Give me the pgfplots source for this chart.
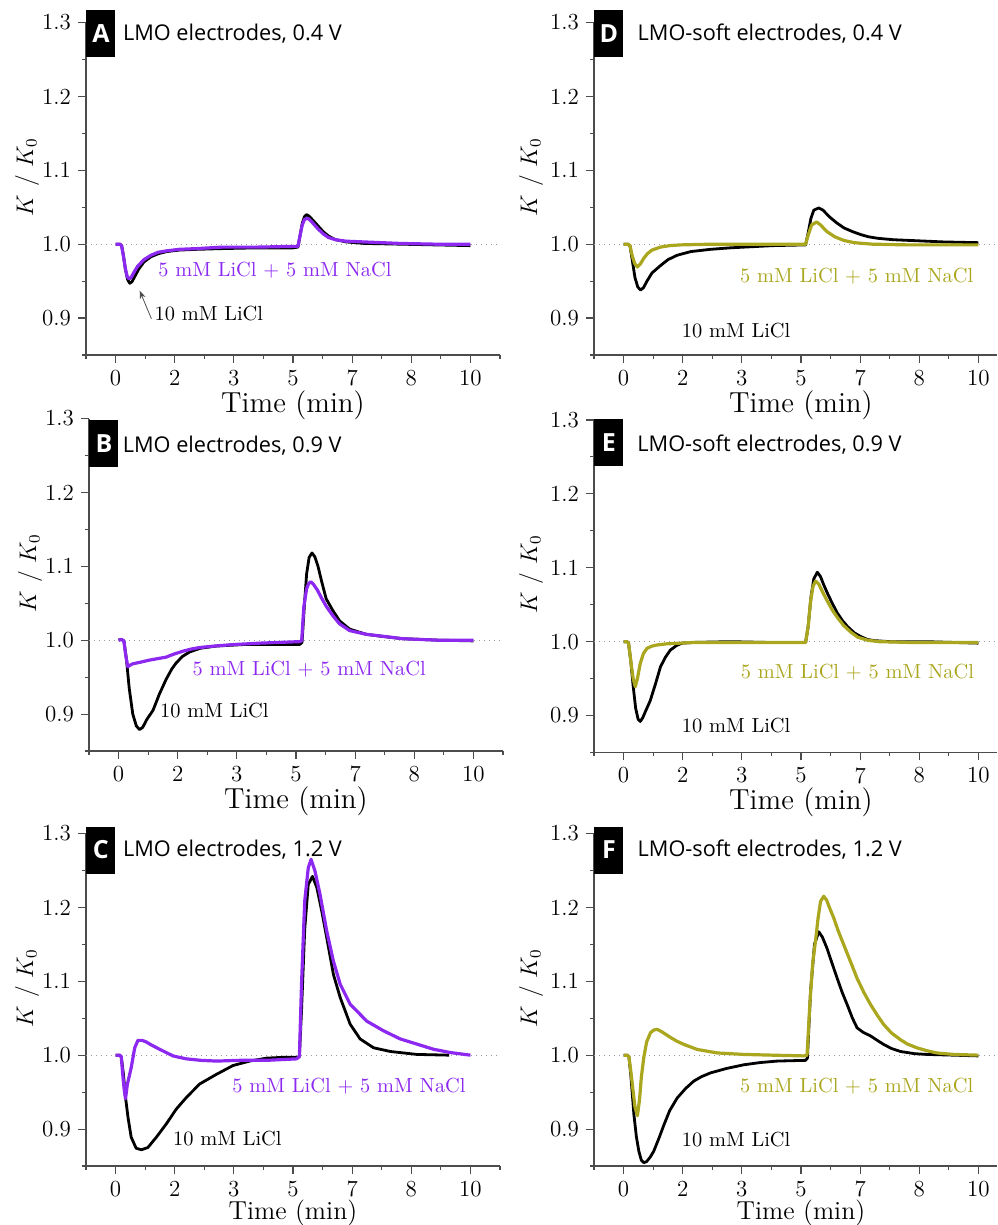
\documentclass[border=0pt]{standalone}
\usepackage{pgfplots}
\pgfplotsset{compat=1.18}
\usepackage{fontspec}
\newfontfamily\titlefont{Open Sans}
\usetikzlibrary{arrows.meta}
\definecolor{lmopurple}{RGB}{140,40,240}
\definecolor{softolive}{RGB}{170,166,30}
\pgfplotsset{
 panel/.style={
  scale only axis, height=166.25pt, clip=false,
  ymin=0.85, ymax=1.3, xmin=-0.8333,
  axis x line*=bottom, axis y line*=left,
  axis line style={black!70, line width=0.7pt},
  tick style={black!70, line width=0.55pt},
  tick align=outside, major tick length=4pt, minor tick length=2pt,
  xtick={0,1.6667,3.3333,5,6.6667,8.3333,10},
  xticklabels={0,2,3,5,7,8,10},
  minor xtick={-0.8333,0.8333,2.5,4.1667,5.8333,7.5,9.1667,10.8333},
  ytick={0.9,1.0,1.1,1.2,1.3}, yticklabels={0.9,1.0,1.1,1.2,1.3},
  minor ytick={0.85,0.95,1.05,1.15,1.25},
  ticklabel style={font=\fontsize{11.5}{13}\selectfont},
  xlabel={Time (min)}, ylabel={$K$ / $K_0$},
  xlabel style={font=\fontsize{14.5}{16}\selectfont, anchor=center},
  ylabel style={font=\fontsize{12}{14}\selectfont, anchor=center},
 },
 leftpanel/.style={panel, width=207pt, xmax=10.8333,
  xlabel style={at={(axis description cs:0.5,-0.15)}},
  ylabel style={at={(axis description cs:-0.1425,0.535)}}},
 rightpanel/.style={panel, width=201.5pt, xmax=10.5234,
  xlabel style={at={(axis description cs:0.5136,-0.15)}},
  ylabel style={at={(axis description cs:-0.156,0.535)}}},
 bottomrow/.style={xlabel style={at={(axis description cs:#1,-0.14)}, font=\fontsize{13}{14}\selectfont}},
 kline/.style={black, line width=1.4pt, line join=round},
 pline/.style={lmopurple, line width=1.6pt, line join=round},
 oline/.style={softolive, line width=1.6pt, line join=round},
 refline/.style={black!40, dotted, line width=0.5pt},
}
\newcommand{\panellabel}[2]{\node[fill=black, text=white, font=\titlefont\bfseries\fontsize{12.5}{14}\selectfont, minimum width=14.5pt, minimum height=23.5pt, inner sep=0pt, anchor=north west] at (axis cs:-0.8333,#2) {#1};}
\newcommand{\paneltitle}[3]{\node[anchor=base west, font=\titlefont\fontsize{10.85}{12}\selectfont, inner sep=0pt] at (axis cs:#1,#2) {#3};}
\newcommand{\annot}[4]{\node[text=#1, font=\fontsize{10.2}{12}\selectfont, inner sep=0pt] at (axis cs:#2,#3) {#4};}
\begin{document}
\begin{tikzpicture}
\useasboundingbox (0,0) rectangle (498.5pt,612.5pt);
% ---------------- A ----------------
\begin{axis}[leftpanel, at={(43pt,435pt)}, anchor=south west]
\addplot[refline] coordinates {(-0.8333,1) (10.8333,1)};
\addplot[kline] coordinates {(0,1.000)(0.12,1.000)(0.17,0.998)(0.22,0.985)(0.28,0.965)(0.34,0.952)(0.40,0.947)(0.46,0.949)(0.55,0.957)(0.65,0.966)(0.8,0.976)(1.0,0.983)(1.2,0.987)(1.45,0.990)(1.8,0.992)(2.3,0.993)(3.0,0.994)(4.0,0.995)(5.0,0.995)(5.14,0.996)(5.2,1.012)(5.26,1.028)(5.32,1.037)(5.38,1.040)(5.45,1.038)(5.55,1.033)(5.7,1.025)(5.85,1.017)(6.0,1.011)(6.2,1.006)(6.5,1.003)(7.0,1.001)(8.0,1.000)(9.0,0.999)(10.0,0.998)};
\addplot[pline] coordinates {(0,1.000)(0.12,1.000)(0.17,0.998)(0.22,0.984)(0.28,0.966)(0.33,0.956)(0.38,0.953)(0.44,0.955)(0.52,0.962)(0.62,0.970)(0.8,0.979)(1.0,0.985)(1.2,0.989)(1.45,0.991)(1.8,0.993)(2.3,0.994)(3.0,0.996)(4.0,0.996)(5.0,0.997)(5.14,0.997)(5.2,1.012)(5.26,1.026)(5.32,1.033)(5.38,1.035)(5.45,1.034)(5.55,1.029)(5.7,1.021)(5.85,1.014)(6.0,1.009)(6.2,1.006)(6.5,1.004)(7.0,1.003)(8.0,1.001)(9.0,1.000)(10.0,1.000)};
\annot{lmopurple}{4.49}{0.9646}{5 mM LiCl + 5 mM NaCl}
\annot{black}{2.63}{0.906}{10 mM LiCl}
\draw[-{Stealth[length=4pt,width=3pt]}, black!70, line width=0.4pt] (axis cs:1.01,0.899) -- (axis cs:0.68,0.937);
\panellabel{A}{1.317}
\paneltitle{0.2}{1.275}{LMO electrodes, 0.4 V}
\end{axis}
% ---------------- B ----------------
\begin{axis}[leftpanel, at={(44.5pt,237pt)}, anchor=south west]
\addplot[refline] coordinates {(-0.8333,1) (10.8333,1)};
\addplot[kline] coordinates {(0,1.000)(0.08,1.001)(0.15,0.999)(0.22,0.975)(0.3,0.935)(0.4,0.900)(0.5,0.884)(0.59,0.879)(0.68,0.882)(0.8,0.893)(0.97,0.905)(1.15,0.927)(1.34,0.947)(1.5,0.961)(1.62,0.969)(1.8,0.978)(2.0,0.984)(2.3,0.989)(2.75,0.992)(3.5,0.994)(4.16,0.994)(5.1,0.994)(5.17,0.997)(5.24,1.05)(5.3,1.09)(5.37,1.112)(5.45,1.118)(5.53,1.113)(5.62,1.100)(5.72,1.080)(5.85,1.056)(6.04,1.040)(6.23,1.026)(6.51,1.015)(6.97,1.008)(7.44,1.005)(8.0,1.002)(9.0,1.000)(10.0,0.999)};
\addplot[pline] coordinates {(0,1.000)(0.08,1.001)(0.15,0.999)(0.2,0.980)(0.26,0.964)(0.32,0.966)(0.4,0.968)(0.6,0.970)(0.87,0.973)(1.1,0.975)(1.34,0.977)(1.55,0.981)(1.81,0.985)(2.05,0.988)(2.28,0.990)(2.7,0.992)(3.22,0.994)(4.0,0.996)(5.1,0.998)(5.16,0.999)(5.22,1.045)(5.3,1.070)(5.36,1.077)(5.42,1.079)(5.5,1.075)(5.6,1.068)(5.72,1.057)(5.85,1.046)(6.04,1.033)(6.23,1.022)(6.51,1.013)(6.97,1.008)(7.5,1.005)(8.0,1.002)(9.0,1.000)(10.0,1.000)};
\annot{lmopurple}{5.37}{0.961}{5 mM LiCl + 5 mM NaCl}
\annot{black}{2.70}{0.905}{10 mM LiCl}
\panellabel{B}{1.299}
\paneltitle{0.11}{1.254}{LMO electrodes, 0.9 V}
\end{axis}
% ---------------- C ----------------
\begin{axis}[leftpanel, bottomrow=0.5, at={(43pt,29.5pt)}, anchor=south west]
\addplot[refline] coordinates {(-0.8333,1) (10.8333,1)};
\addplot[kline] coordinates {(0,1.000)(0.1,1.000)(0.16,0.998)(0.22,0.975)(0.28,0.943)(0.35,0.916)(0.44,0.889)(0.58,0.874)(0.73,0.872)(0.91,0.875)(1.15,0.889)(1.43,0.907)(1.71,0.927)(2.0,0.943)(2.37,0.961)(2.84,0.974)(3.31,0.986)(3.78,0.992)(4.26,0.996)(4.7,0.997)(5.1,0.997)(5.18,0.998)(5.24,1.06)(5.33,1.17)(5.43,1.231)(5.55,1.242)(5.67,1.227)(5.81,1.195)(5.95,1.159)(6.14,1.109)(6.33,1.078)(6.61,1.042)(6.89,1.022)(7.27,1.010)(7.74,1.005)(8.49,1.001)(9.4,1.000)};
\addplot[pline] coordinates {(0,1.000)(0.12,1.000)(0.16,0.998)(0.2,0.975)(0.24,0.955)(0.28,0.941)(0.33,0.960)(0.44,0.983)(0.54,1.010)(0.63,1.020)(0.75,1.020)(0.86,1.018)(1.0,1.014)(1.24,1.008)(1.45,1.003)(1.62,0.999)(1.8,0.997)(2.0,0.995)(2.4,0.993)(2.84,0.992)(3.5,0.993)(4.26,0.993)(5.1,0.995)(5.18,0.998)(5.24,1.096)(5.33,1.2085)(5.43,1.2535)(5.51,1.265)(5.62,1.249)(5.76,1.218)(5.95,1.168)(6.14,1.127)(6.33,1.096)(6.61,1.069)(7.08,1.046)(7.55,1.033)(8.02,1.022)(8.49,1.015)(8.96,1.008)(9.44,1.0035)(10.0,1.000)};
\annot{lmopurple}{6.58}{0.9585}{5 mM LiCl + 5 mM NaCl}
\annot{black}{3.15}{0.8865}{10 mM LiCl}
\panellabel{C}{1.31}
\paneltitle{0.2}{1.269}{LMO electrodes, 1.2 V}
\end{axis}
% ---------------- D ----------------
\begin{axis}[rightpanel, at={(297pt,435pt)}, anchor=south west]
\addplot[refline] coordinates {(-0.8333,1) (10.5234,1)};
\addplot[kline] coordinates {(0,1.000)(0.12,1.000)(0.18,0.998)(0.24,0.980)(0.32,0.955)(0.40,0.942)(0.48,0.938)(0.56,0.941)(0.66,0.950)(0.8,0.961)(1.04,0.971)(1.25,0.979)(1.51,0.985)(1.9,0.990)(2.45,0.993)(3.0,0.995)(3.4,0.996)(4.2,0.998)(5.13,0.999)(5.2,1.015)(5.28,1.035)(5.36,1.046)(5.5,1.049)(5.62,1.046)(5.8,1.037)(6.0,1.029)(6.21,1.022)(6.45,1.017)(6.68,1.013)(6.9,1.010)(7.15,1.008)(7.6,1.006)(8.08,1.005)(9.02,1.003)(10.0,1.002)};
\addplot[oline] coordinates {(0,1.000)(0.12,1.000)(0.18,0.998)(0.24,0.985)(0.31,0.974)(0.39,0.969)(0.47,0.973)(0.57,0.981)(0.67,0.987)(0.8,0.992)(1.04,0.996)(1.3,0.998)(1.6,0.999)(2.5,1.000)(4.0,1.000)(5.13,1.000)(5.2,1.012)(5.3,1.026)(5.44,1.030)(5.55,1.026)(5.73,1.017)(5.95,1.010)(6.21,1.005)(6.5,1.002)(7.0,1.000)(8.0,0.999)(10.0,0.999)};
\annot{softolive}{6.57}{0.957}{5 mM LiCl + 5 mM NaCl}
\annot{black}{3.17}{0.883}{10 mM LiCl}
\panellabel{D}{1.317}
\paneltitle{0.386}{1.275}{LMO-soft electrodes, 0.4 V}
\end{axis}
% ---------------- E ----------------
\begin{axis}[rightpanel, at={(297pt,236.25pt)}, anchor=south west]
\addplot[refline] coordinates {(-0.8333,1) (10.5234,1)};
\addplot[kline] coordinates {(0,1.0)(0.1,1.0)(0.14,0.998)(0.2,0.975)(0.27,0.94)(0.34,0.91)(0.41,0.895)(0.47,0.892)(0.54,0.897)(0.62,0.906)(0.75,0.920)(0.9,0.943)(1.04,0.966)(1.18,0.979)(1.32,0.9887)(1.5,0.995)(1.65,0.998)(2.0,0.999)(3.0,1.0)(4.0,0.999)(5.13,0.999)(5.2,1.02)(5.28,1.06)(5.36,1.085)(5.46,1.094)(5.55,1.088)(5.64,1.077)(5.74,1.066)(5.88,1.052)(6.02,1.039)(6.16,1.029)(6.31,1.0205)(6.5,1.012)(6.68,1.007)(6.87,1.003)(7.06,1.0014)(7.5,1.0)(8.5,1.0)(10,0.998)};
\addplot[oline] coordinates {(0,1.0)(0.1,1.0)(0.14,0.998)(0.2,0.975)(0.27,0.95)(0.33,0.939)(0.39,0.950)(0.47,0.9705)(0.56,0.984)(0.66,0.991)(0.8,0.994)(0.94,0.9955)(1.2,0.997)(1.6,0.998)(2.0,0.999)(3.0,0.999)(4.0,0.999)(5.13,0.999)(5.2,1.02)(5.27,1.055)(5.34,1.075)(5.41,1.082)(5.5,1.078)(5.6,1.068)(5.74,1.055)(5.88,1.043)(6.02,1.033)(6.2,1.022)(6.4,1.013)(6.6,1.006)(6.87,1.002)(7.2,1.0)(8,0.999)(10,0.999)};
\annot{softolive}{6.59}{0.959}{5 mM LiCl + 5 mM NaCl}
\annot{black}{3.17}{0.886}{10 mM LiCl}
\panellabel{E}{1.302}
\paneltitle{0.38}{1.257}{LMO-soft electrodes, 0.9 V}
\end{axis}
% ---------------- F ----------------
\begin{axis}[rightpanel, bottomrow=0.5136, at={(297pt,29.5pt)}, anchor=south west]
\addplot[refline] coordinates {(-0.8333,1) (10.5234,1)};
\addplot[kline] coordinates {(0,1.0)(0.1,1.0)(0.15,0.998)(0.2,0.975)(0.25,0.945)(0.29,0.920)(0.36,0.89)(0.43,0.870)(0.5,0.858)(0.57,0.8545)(0.65,0.856)(0.75,0.862)(0.85,0.870)(1.0,0.888)(1.14,0.906)(1.3,0.925)(1.51,0.942)(1.75,0.955)(1.98,0.965)(2.2,0.971)(2.45,0.976)(2.9,0.982)(3.39,0.987)(3.85,0.990)(4.33,0.992)(5.13,0.993)(5.18,0.996)(5.27,1.087)(5.38,1.150)(5.5,1.167)(5.6,1.160)(5.73,1.145)(5.87,1.125)(6.02,1.104)(6.16,1.085)(6.3,1.0685)(6.45,1.050)(6.58,1.037)(6.75,1.031)(6.96,1.026)(7.15,1.020)(7.33,1.0145)(7.55,1.009)(7.8,1.005)(8.2,1.002)(8.55,1.001)(9.3,1.000)(10,0.999)};
\addplot[oline] coordinates {(0,1.0)(0.1,1.0)(0.15,0.998)(0.2,0.98)(0.26,0.955)(0.32,0.93)(0.39,0.918)(0.45,0.94)(0.5,0.97)(0.57,0.997)(0.65,1.018)(0.76,1.0305)(0.85,1.034)(0.95,1.035)(1.1,1.031)(1.32,1.024)(1.5,1.019)(1.7,1.0145)(2.08,1.0077)(2.64,1.003)(3.39,1.001)(4.2,1.000)(5.08,0.999)(5.17,1.0)(5.25,1.07)(5.33,1.125)(5.41,1.155)(5.48,1.185)(5.55,1.208)(5.64,1.215)(5.72,1.210)(5.8,1.200)(5.92,1.186)(6.05,1.168)(6.2,1.150)(6.4,1.126)(6.58,1.104)(6.77,1.085)(6.96,1.0685)(7.15,1.054)(7.33,1.0415)(7.55,1.030)(7.8,1.021)(8.0,1.015)(8.27,1.0099)(8.55,1.006)(8.83,1.003)(9.3,1.001)(10,1.0)};
\annot{softolive}{6.57}{0.9585}{5 mM LiCl + 5 mM NaCl}
\annot{black}{3.17}{0.886}{10 mM LiCl}
\panellabel{F}{1.31}
\paneltitle{0.386}{1.269}{LMO-soft electrodes, 1.2 V}
\end{axis}
\end{tikzpicture}
\end{document}
